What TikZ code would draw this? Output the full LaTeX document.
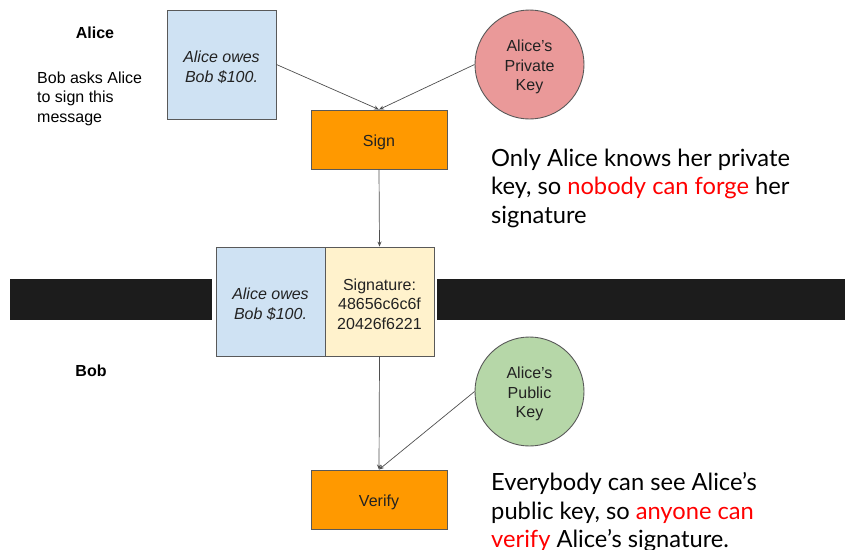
\documentclass[tikz,border=0pt]{standalone}
\usepackage{fontspec}
\setmainfont{Liberation Sans}
\newfontfamily\lato{Lato}
\usetikzlibrary{arrows.meta}
\definecolor{msgblue}{HTML}{CFE2F3}
\definecolor{sigyellow}{HTML}{FFF2CC}
\definecolor{stepor}{HTML}{FF9900}
\definecolor{privred}{HTML}{EA9999}
\definecolor{pubgreen}{HTML}{B6D7A8}
\definecolor{edgegray}{HTML}{595959}
\definecolor{bardark}{HTML}{1C1C1C}
\definecolor{inkdark}{HTML}{222222}
\definecolor{alertred}{HTML}{FF0000}
\tikzset{
  boxtext/.style={font=\fontsize{16}{19.5}\selectfont, text=inkdark, align=center, inner sep=0pt, yshift=-2.5pt},
  square/.style={draw=edgegray, line width=0.9pt, minimum width=109pt, minimum height=109pt, inner sep=0pt},
  stepbox/.style={draw=edgegray, line width=0.9pt, fill=stepor, minimum width=136pt, minimum height=59pt, inner sep=0pt},
  keycircle/.style={circle, draw=edgegray, line width=0.9pt, minimum size=109pt, inner sep=0pt},
  flow/.style={draw=inkdark!80, line width=0.7pt, -{Stealth[length=5pt,width=4pt]}},
  sidenote/.style={font=\fontsize{16}{19.5}\selectfont, text=black, inner sep=0pt, anchor=base west},
  remark/.style={font=\lato\fontsize{23.7}{28.5}\selectfont, text=black, inner sep=0pt, anchor=base west},
}
\begin{document}
\begin{tikzpicture}[x=1pt, y=-1pt]
\useasboundingbox (0,0) rectangle (845,549);

% channel between the two parties
\fill[bardark] (10,279) rectangle (212,320);
\fill[bardark] (437,279) rectangle (845,320);

% Alice's side
\node[sidenote, font=\bfseries\fontsize{16}{19.5}\selectfont, anchor=base] (alice) at (95,38.5) {Alice};
\node[sidenote] (ask1) at (37,83) {Bob asks Alice};
\node[sidenote] (ask2) at (37,102.5) {to sign this};
\node[sidenote] (ask3) at (37,122) {message};

\node[square, fill=msgblue, label={[boxtext]center:{\itshape Alice owes\\\itshape Bob \$100.}}] (msg) at (221.5,64.5) {};
\node[keycircle, fill=privred, label={[boxtext]center:{Alice's\\Private\\Key}}] (priv) at (529.5,64.5) {};
\node[stepbox, label={[boxtext]center:Sign}] (sign) at (379,139.5) {};

% signed message crossing the channel
\node[square, fill=msgblue, label={[boxtext]center:{\itshape Alice owes\\\itshape Bob \$100.}}] (msg2) at (270.5,301.5) {};
\node[square, fill=sigyellow, label={[boxtext]center:{Signature:\\48656c6c6f\\20426f6221}}] (sig) at (379.5,301.5) {};

% Bob's side
\node[sidenote, font=\bfseries\fontsize{16}{19.5}\selectfont, anchor=base] (bob) at (91,376) {Bob};
\node[keycircle, fill=pubgreen, label={[boxtext]center:{Alice’s\\Public\\Key}}] (pub) at (529.5,391.5) {};
\node[stepbox, label={[boxtext]center:Verify}] (verify) at (379,499.5) {};

% connectors
\draw[flow] (msg.east) -- (sign.north);
\draw[flow] (priv.west) -- (sign.north);
\draw[flow] (sign.south) -- (sig.north);
\draw[flow] (sig.south) -- (verify.north);
\draw[flow] (pub.west) -- (verify.north);

% remarks
\node[remark] (r1a) at (491,166) {Only Alice knows her private};
\node[remark] (r1b) at (491,194.5) {key, so \textcolor{alertred}{nobody can forge} her};
\node[remark] (r1c) at (491,223) {signature};

\node[remark] (r2a) at (491,490.5) {Everybody can see Alice’s};
\node[remark] (r2b) at (491,519) {public key, so \textcolor{alertred}{anyone can}};
\node[remark] (r2c) at (491,547.5) {\textcolor{alertred}{verify} Alice’s signature.};
\end{tikzpicture}
\end{document}
